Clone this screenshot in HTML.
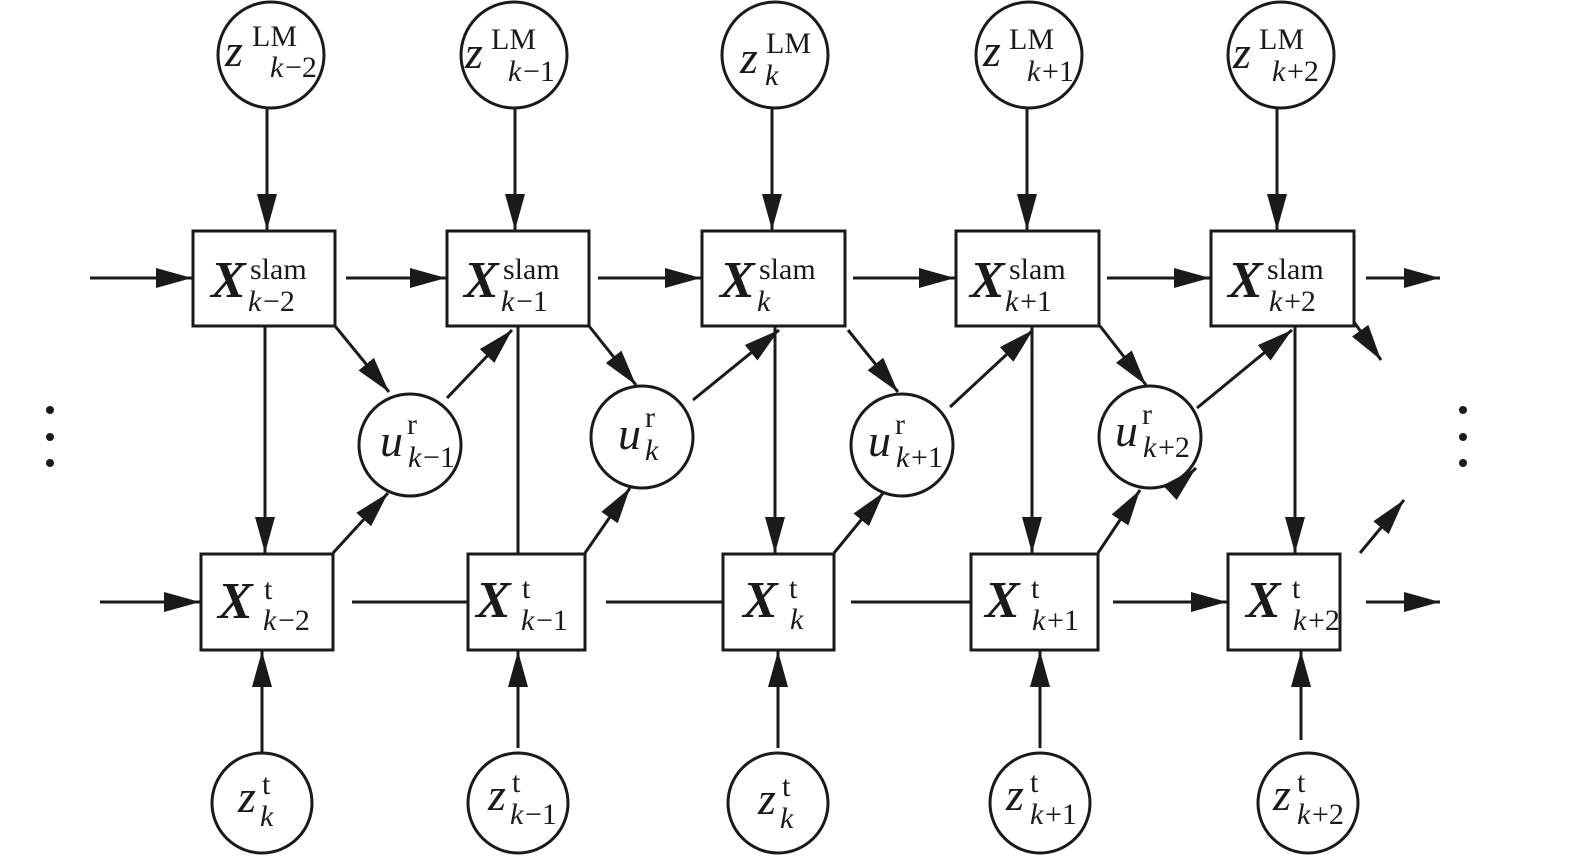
<!DOCTYPE html>
<html><head><meta charset="utf-8"><style>
html,body{margin:0;padding:0;background:#fff;}
svg{display:block;}
text{font-family:"Liberation Serif",serif;fill:#1a1a1a;}
.i{font-style:italic;}
.b{font-weight:bold;font-style:italic;}
</style></head><body>
<svg width="1575" height="859" viewBox="0 0 1575 859" xmlns="http://www.w3.org/2000/svg">
<defs>
<marker id="a" viewBox="0 0 10 10" refX="10" refY="5" markerWidth="10" markerHeight="10" markerUnits="userSpaceOnUse" orient="auto">
</marker>
<marker id="ah" viewBox="0 0 36 20" refX="36" refY="10" markerWidth="36" markerHeight="20" markerUnits="userSpaceOnUse" orient="auto">
<path d="M0,0 L36,10 L0,20 Z" fill="#1a1a1a"/>
</marker>
</defs>
<g stroke="#1a1a1a" stroke-width="3" fill="none">
<!-- top circles -->
<circle cx="271" cy="55" r="53"/><circle cx="514" cy="55" r="53"/><circle cx="775" cy="55" r="53"/><circle cx="1029" cy="55" r="53"/><circle cx="1281" cy="55" r="53"/>
<!-- slam boxes -->
<rect x="193" y="231" width="142" height="95"/><rect x="447" y="231" width="142" height="95"/><rect x="702" y="231" width="143" height="95"/><rect x="956" y="231" width="143" height="95"/><rect x="1211" y="231" width="143" height="95"/>
<!-- u circles -->
<circle cx="410" cy="445" r="51"/><circle cx="642" cy="437" r="51"/><circle cx="902" cy="445" r="51"/><circle cx="1150" cy="437" r="51"/>
<!-- t boxes -->
<rect x="201" y="554" width="132" height="96"/><rect x="468" y="554" width="117" height="96"/><rect x="723" y="554" width="111" height="96"/><rect x="971" y="554" width="127" height="96"/><rect x="1228" y="554" width="112" height="96"/>
<!-- bottom circles -->
<circle cx="262" cy="803" r="50"/><circle cx="518" cy="803" r="50"/><circle cx="778" cy="803" r="50"/><circle cx="1040" cy="803" r="50"/><circle cx="1308" cy="803" r="50"/>
</g>
<g stroke="#1a1a1a" stroke-width="3" fill="none" marker-end="url(#ah)">
<!-- top down -->
<line x1="267" y1="109" x2="267" y2="230"/><line x1="515" y1="109" x2="515" y2="230"/><line x1="772" y1="109" x2="772" y2="230"/><line x1="1027" y1="109" x2="1027" y2="230"/><line x1="1277" y1="109" x2="1277" y2="230"/>
<!-- slam horizontals -->
<line x1="90" y1="278" x2="192" y2="278"/><line x1="346" y1="278" x2="446" y2="278"/><line x1="598" y1="278" x2="701" y2="278"/><line x1="853" y1="278" x2="955" y2="278"/><line x1="1107" y1="278" x2="1210" y2="278"/><line x1="1366" y1="278" x2="1440" y2="278"/>
<!-- slam -> t verticals -->
<line x1="265" y1="326" x2="265" y2="553"/><line x1="775" y1="326" x2="775" y2="553"/><line x1="1032" y1="326" x2="1032" y2="553"/><line x1="1295" y1="326" x2="1295" y2="553"/>
<!-- t horizontals -->
<line x1="100" y1="602" x2="200" y2="602"/><line x1="1113" y1="602" x2="1227" y2="602"/><line x1="1366" y1="602" x2="1440" y2="602"/>
<!-- diagonals -->
<line x1="335" y1="326" x2="389" y2="392"/><line x1="447" y1="398" x2="512" y2="330"/><line x1="333" y1="553" x2="388" y2="493"/>
<line x1="589" y1="326" x2="636" y2="385"/><line x1="693" y1="400" x2="779" y2="330"/><line x1="585" y1="553" x2="630" y2="488"/>
<line x1="848" y1="330" x2="898" y2="392"/><line x1="950" y1="407" x2="1033" y2="330"/><line x1="834" y1="553" x2="884" y2="492"/>
<line x1="1100" y1="326" x2="1146" y2="385"/><line x1="1197" y1="408" x2="1292" y2="330"/><line x1="1098" y1="553" x2="1140" y2="490"/>
<line x1="1354" y1="322" x2="1381" y2="360"/><line x1="1360" y1="553" x2="1404" y2="500"/>
<line x1="1178" y1="485" x2="1196" y2="468"/>
<!-- bottom up -->
<line x1="262" y1="753" x2="262" y2="651"/><line x1="518" y1="748" x2="518" y2="651"/><line x1="778" y1="748" x2="778" y2="651"/><line x1="1040" y1="748" x2="1040" y2="651"/><line x1="1301" y1="740" x2="1301" y2="651"/>
</g>
<g stroke="#1a1a1a" stroke-width="3">
<line x1="518" y1="326" x2="518" y2="553"/>
<line x1="352" y1="602" x2="468" y2="602"/><line x1="606" y1="602" x2="723" y2="602"/><line x1="851" y1="602" x2="971" y2="602"/>
</g>
<g fill="#1a1a1a">
<circle cx="50" cy="410" r="4"/><circle cx="50" cy="437" r="4"/><circle cx="50" cy="463" r="4"/>
<circle cx="1463" cy="410" r="4"/><circle cx="1463" cy="437" r="4"/><circle cx="1463" cy="463" r="4"/>
</g>
<!-- top labels -->
<g font-size="30">
<text x="225" y="66" class="i" font-size="46">z</text><text x="252" y="46">LM</text><text x="270" y="77" class="i">k</text><text x="285" y="77">−2</text>
<text x="465" y="68" class="i" font-size="46">z</text><text x="491" y="49">LM</text><text x="508" y="81" class="i">k</text><text x="523" y="81">−1</text>
<text x="740" y="73" class="i" font-size="46">z</text><text x="766" y="53">LM</text><text x="765" y="85" class="i">k</text>
<text x="983" y="66" class="i" font-size="46">z</text><text x="1009" y="49">LM</text><text x="1027" y="81" class="i">k</text><text x="1042" y="81">+1</text>
<text x="1233" y="68" class="i" font-size="46">z</text><text x="1259" y="49">LM</text><text x="1272" y="81" class="i">k</text><text x="1287" y="81">+2</text>
</g>
<!-- slam labels -->
<g font-size="30">
<text x="211" y="297" class="b" font-size="52">X</text><text x="250" y="279">slam</text><text x="248" y="311" class="i">k</text><text x="263" y="311">−2</text>
<text x="464" y="297" class="b" font-size="52">X</text><text x="503" y="279">slam</text><text x="501" y="311" class="i">k</text><text x="516" y="311">−1</text>
<text x="720" y="297" class="b" font-size="52">X</text><text x="759" y="279">slam</text><text x="757" y="311" class="i">k</text>
<text x="970" y="297" class="b" font-size="52">X</text><text x="1009" y="279">slam</text><text x="1005" y="311" class="i">k</text><text x="1020" y="311">+1</text>
<text x="1228" y="297" class="b" font-size="52">X</text><text x="1267" y="279">slam</text><text x="1269" y="311" class="i">k</text><text x="1284" y="311">+2</text>
</g>
<!-- u labels -->
<g font-size="30">
<text x="380" y="456" class="i" font-size="46">u</text><text x="407" y="434">r</text><text x="408" y="467" class="i">k</text><text x="423" y="467">−1</text>
<text x="618" y="449" class="i" font-size="46">u</text><text x="645" y="427">r</text><text x="645" y="460" class="i">k</text>
<text x="868" y="456" class="i" font-size="46">u</text><text x="895" y="434">r</text><text x="896" y="467" class="i">k</text><text x="911" y="467">+1</text>
<text x="1115" y="446" class="i" font-size="46">u</text><text x="1142" y="424">r</text><text x="1143" y="457" class="i">k</text><text x="1158" y="457">+2</text>
</g>
<!-- t labels -->
<g font-size="30">
<text x="218" y="618" class="b" font-size="52">X</text><text x="264" y="599">t</text><text x="263" y="630" class="i">k</text><text x="278" y="630">−2</text>
<text x="476" y="617" class="b" font-size="52">X</text><text x="522" y="598">t</text><text x="521" y="630" class="i">k</text><text x="536" y="630">−1</text>
<text x="743" y="617" class="b" font-size="52">X</text><text x="789" y="598">t</text><text x="790" y="629" class="i">k</text>
<text x="985" y="617" class="b" font-size="52">X</text><text x="1031" y="598">t</text><text x="1032" y="630" class="i">k</text><text x="1047" y="630">+1</text>
<text x="1246" y="617" class="b" font-size="52">X</text><text x="1292" y="598">t</text><text x="1293" y="630" class="i">k</text><text x="1308" y="630">+2</text>
</g>
<!-- bottom labels -->
<g font-size="30">
<text x="238" y="812" class="i" font-size="46">z</text><text x="262" y="794">t</text><text x="260" y="826" class="i">k</text>
<text x="488" y="810" class="i" font-size="46">z</text><text x="512" y="792">t</text><text x="510" y="824" class="i">k</text><text x="525" y="824">−1</text>
<text x="758" y="814" class="i" font-size="46">z</text><text x="782" y="796">t</text><text x="780" y="828" class="i">k</text>
<text x="1006" y="810" class="i" font-size="46">z</text><text x="1030" y="792">t</text><text x="1030" y="824" class="i">k</text><text x="1045" y="824">+1</text>
<text x="1273" y="810" class="i" font-size="46">z</text><text x="1297" y="792">t</text><text x="1297" y="824" class="i">k</text><text x="1312" y="824">+2</text>
</g>
</svg>
</body></html>
